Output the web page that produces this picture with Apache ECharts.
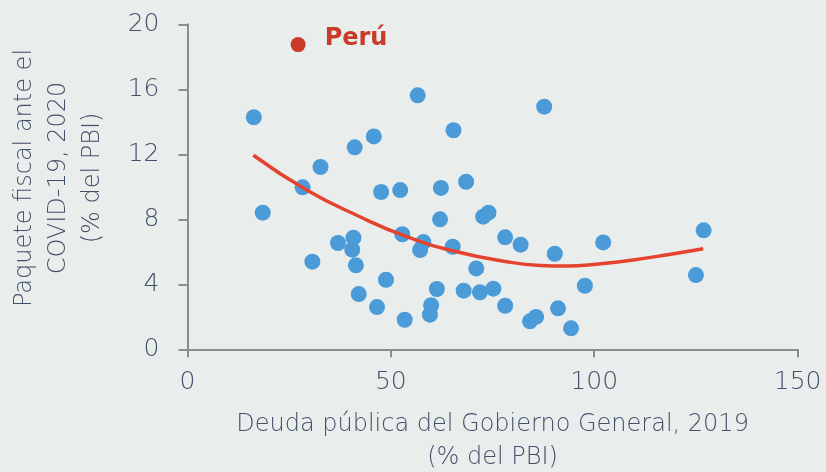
<!DOCTYPE html>
<html><head><meta charset="utf-8">
<script src="https://cdn.jsdelivr.net/npm/echarts@6/dist/echarts.min.js"></script>
<style>html,body{margin:0;padding:0;background:#e9edec}#c{width:826px;height:472px}</style>
</head><body><div id="c"></div>
<script>
// Deuda pública (x) vs paquete fiscal (y)
const debtX = [16.3,56.6,65.4,45.8,41.1,32.7,28.3,18.5,47.6,52.3,62.3,68.5,62.1,72.7,74.0,40.8,37.0,40.5,52.8,58.0,57.2,65.2,30.7,41.4,48.8,71.0,42.1,61.3,67.9,71.9,75.2,46.6,59.9,59.6,53.4,87.7,78.1,81.9,90.3,102.2,126.9,125.0,97.7,78.1,91.1,84.2,85.7,94.3];
const fiscalY = [14.28,15.63,13.48,13.1,12.43,11.22,9.97,8.41,9.68,9.80,9.93,10.31,8.0,8.16,8.41,6.87,6.54,6.13,7.08,6.6,6.11,6.31,5.39,5.17,4.28,4.98,3.40,3.71,3.61,3.51,3.73,2.60,2.71,2.13,1.82,14.93,6.89,6.44,5.88,6.58,7.32,4.57,3.91,2.68,2.52,1.72,1.99,1.29];
const peruX = 27.2, peruY = 18.75;
// Trend curve
const trendX = [16.2,29.3,41.6,53.9,66.2,78.5,86.7,93.2,101,109.6,118,126.8];
const trendY = [11.94,9.80,8.25,6.93,6.0,5.39,5.16,5.12,5.25,5.50,5.82,6.19];
const xTicks = [0,50,100,150];
const yTicks = [0,4,8,12,16,20];

const FONT = '"DejaVu Sans"';
const FW = 200;
const FS = 24;
const TXT = '#42516a';
const chart = echarts.init(document.getElementById('c'));
chart.setOption({
  backgroundColor:'#e9edec',
  animation:false,
  grid:{left:187.5,right:28.4,top:24.3,bottom:122.7,containLabel:false,outerBoundsMode:'none'},
  xAxis:{type:'value',min:xTicks[0],max:xTicks[xTicks.length-1],interval:50,
    axisLine:{show:true,lineStyle:{color:'#8c8c8c',width:2}},
    axisTick:{show:true,length:8,lineStyle:{color:'#8c8c8c',width:2}},
    splitLine:{show:false},
    axisLabel:{color:TXT,fontSize:25,fontFamily:FONT,fontWeight:FW,margin:21},
    name:'Deuda pública del Gobierno General, 2019\n(% del PBI)',nameLocation:'middle',nameGap:59,
    nameTextStyle:{color:TXT,fontSize:FS,fontFamily:FONT,fontWeight:FW,lineHeight:33,verticalAlign:'top'}
  },
  yAxis:{type:'value',min:yTicks[0],max:yTicks[yTicks.length-1],interval:4,
    axisLine:{show:true,lineStyle:{color:'#8c8c8c',width:2}},
    axisTick:{show:true,length:9,lineStyle:{color:'#8c8c8c',width:2}},
    splitLine:{show:false},
    axisLabel:{color:TXT,fontSize:25,fontFamily:FONT,fontWeight:FW,margin:28}
  },
  graphic:[{type:'text',x:59,y:178,rotation:Math.PI/2,
    style:{text:'Paquete fiscal ante el\nCOVID-19, 2020\n(% del PBI)',fill:TXT,font:FW+' '+FS+'px '+FONT,
      textAlign:'center',textVerticalAlign:'middle',lineHeight:34}}],
  series:[
    {type:'scatter',data:debtX.map((x,i)=>[x,fiscalY[i]]),symbolSize:16,
      itemStyle:{color:'#4b9bd9',opacity:1},z:2},
    {type:'line',data:trendX.map((x,i)=>[x,trendY[i]]),smooth:true,showSymbol:false,
      lineStyle:{color:'#e5432f',width:3.5},z:3},
    {type:'scatter',data:[[peruX,peruY]],symbolSize:15,itemStyle:{color:'#c93a29',opacity:1},
      label:{show:true,position:'right',distance:19,offset:[0,-6],formatter:'Perú',
        color:'#c93a29',fontSize:24,fontWeight:'bold',fontFamily:FONT},z:4}
  ]
});
</script></body></html>
